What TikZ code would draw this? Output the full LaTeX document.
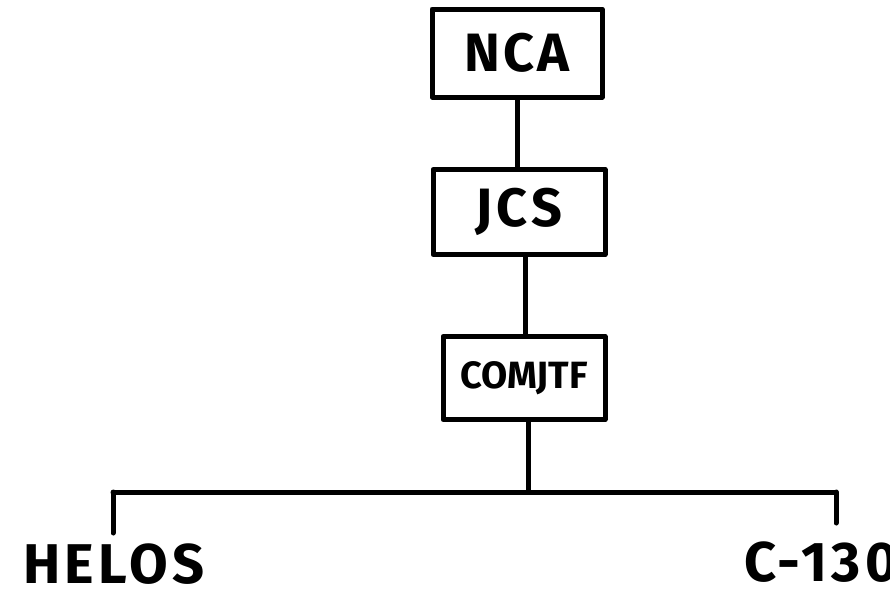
\documentclass[tikz,border=0pt]{standalone}
\usepackage{fontspec}
\setmainfont{Fira Sans}
\usetikzlibrary{positioning, calc}

\begin{document}
\begin{tikzpicture}[x=1pt,y=-1pt,line width=5pt,line cap=round,
  font=\bfseries,
  unit/.style={draw,rectangle,inner sep=0pt,line join=round},
  leaf/.style={inner sep=0pt,font=\fontsize{56}{56}\bfseries\addfontfeatures{LetterSpace=8}}]

\clip (0,0) rectangle (890,597);
\fill[white] (0,0) rectangle (890,597);

% ==================== Comando ====================
\node[unit,minimum width=170pt,minimum height=88pt,font=\fontsize{54}{54}\bfseries\addfontfeatures{LetterSpace=5}] (nca) at (517,53) {NCA};
\node[unit,minimum width=172pt,minimum height=85pt,font=\fontsize{54}{54}\bfseries\addfontfeatures{LetterSpace=8}] (jcs) at (519,212) {JCS};
\node[unit,minimum width=162pt,minimum height=83pt,font=\fontsize{38}{38}\bfseries] (comjtf) at (524,378) {COMJTF};

% Linee verticali
\coordinate (jcsdown) at ($(jcs.south)+(6,0)$);
\draw (nca.south) -- (nca.south |- jcs.north);
\draw (jcsdown) -- (jcsdown |- comjtf.north);

% ==================== Barra orizzontale ====================
\coordinate (barL) at (113,492);
\coordinate (barR) at (836,492);
\coordinate (barM) at (528,492);
\coordinate (comdown) at ($(comjtf.south)+(4,0)$);
\draw (comdown) -- (barM);
\draw (barL) -- (barR);

% Foglie
\node[leaf] (helos) at (114,564) {HELOS};
\node[leaf,anchor=west] (ctrans) at (742,562) {C-130};
\draw (barL) -- ++(0,41);
\draw (barR) -- ++(0,31);

\end{tikzpicture}
\end{document}
